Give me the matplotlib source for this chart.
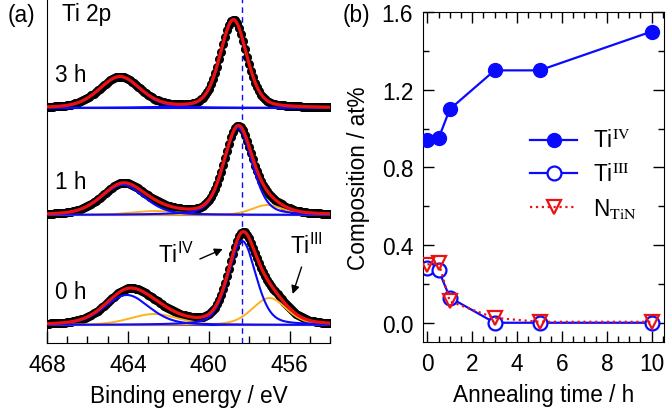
import numpy as np
import matplotlib
matplotlib.use("Agg")
import matplotlib.pyplot as plt
from matplotlib.ticker import MultipleLocator

plt.rcParams['font.family'] = ['Liberation Sans', 'DejaVu Sans']
plt.rcParams['mathtext.fontset'] = 'custom'
plt.rcParams['mathtext.rm'] = 'Liberation Sans'
plt.rcParams['mathtext.it'] = 'Liberation Sans:italic'

FS = 16.3

# ---- panel (a): Ti 2p fit components (center eV, height, fwhm eV) ----
labels_a = ["0 h", "1 h", "3 h"]
offsets_a = [18, 128, 235]
ti4_peaks = [
    [(458.35, 84, 1.6), (464.05, 30, 2.6)],
    [(458.55, 87, 1.65), (464.25, 30, 2.5)],
    [(458.78, 88, 1.55), (464.4, 31, 2.4)],
]
ti3_peaks = [
    [(457.0, 27, 2.0), (462.7, 11, 2.8)],
    [(457.1, 10, 1.8), (462.6, 4, 2.8)],
    [],
]
ref_line = 458.38

# ---- panel (b): composition vs annealing time ----
time_h = [0, 0.5, 1, 3, 5, 10]
ti_iv = [0.94, 0.95, 1.10, 1.30, 1.30, 1.50]
ti_iii = [0.28, 0.27, 0.13, 0.0, 0.0, 0.0]
n_tin = [0.30, 0.31, 0.11, 0.025, 0.005, 0.005]


def pv(x, c, h, w, eta=0.3):
    g = np.exp(-4 * np.log(2) * ((x - c) / w) ** 2)
    l = 1.0 / (1 + 4 * ((x - c) / w) ** 2)
    return h * (eta * l + (1 - eta) * g)


fig = plt.figure(figsize=(6.66, 4.1), dpi=100)
ax1 = fig.add_axes([0.0706, 0.161, 0.425, 0.839])
ax2 = fig.add_axes([0.635, 0.163, 0.362, 0.805])

blue = '#0a0aff'
red = '#ee1111'
orange = '#ffb020'

x = np.linspace(454, 468, 700)
xd = np.arange(454, 468.01, 0.1)
for i in range(3):
    off = offsets_a[i]
    tot = np.zeros_like(x)
    totd = np.zeros_like(xd)
    for p in ti4_peaks[i] + ti3_peaks[i]:
        tot += pv(x, *p)
        totd += pv(xd, *p)
    ax1.plot(xd, totd + off, 'o', color='black', ms=5.5, zorder=1)
    ax1.axhline(off, color=blue, lw=1.5, zorder=2)
    for p in ti3_peaks[i]:
        ax1.plot(x, pv(x, *p) + off, color=orange, lw=1.4, zorder=2)
    for p in ti4_peaks[i]:
        ax1.plot(x, pv(x, *p) + off, color=blue, lw=1.5, zorder=2)
    ax1.plot(x, tot + off, color=red, lw=2.3, zorder=3)
    ax1.text(467.6, off + 33, labels_a[i], fontsize=FS, ha='left', va='center')

ax1.axvline(ref_line, color=blue, lw=1.0, ls=(0, (4, 3)), zorder=0)
ax1.text(467.25, 329, "Ti 2p", fontsize=FS, ha='left', va='center')

arrow = dict(arrowstyle='-|>', color='black', lw=1.0, shrinkA=0, shrinkB=0,
             mutation_scale=12)
ax1.text(461.6, 89, r"Ti$^{\mathrm{IV}}$", fontsize=FS, ha='center', va='center')
ax1.annotate("", xy=(459.31, 94), xytext=(460.44, 84), arrowprops=arrow)
ax1.text(455.2, 98, r"Ti$^{\mathrm{III}}$", fontsize=FS, ha='center', va='center')
ax1.annotate("", xy=(455.85, 49), xytext=(455.41, 76), arrowprops=arrow)

ax1.set_xlim(468, 454)
ax1.set_ylim(0, 344)
ax1.set_yticks([])
ax1.spines['top'].set_visible(False)
ax1.spines['right'].set_visible(False)
ax1.xaxis.set_major_locator(MultipleLocator(4))
ax1.xaxis.set_minor_locator(MultipleLocator(1))
ax1.tick_params(axis='x', which='major', direction='in', length=9, width=1,
                labelsize=FS, pad=7)
ax1.tick_params(axis='x', which='minor', direction='in', length=5, width=1)
ax1.set_xlabel("Binding energy / eV", fontsize=FS, labelpad=6)

# ---- panel (b) ----
ax2.plot(time_h, ti_iv, '-o', color=blue, lw=1.6, ms=10, mfc=blue, mec=blue,
         label=r"Ti$^{\mathrm{IV}}$", zorder=3)
ax2.plot(time_h, ti_iii, '-o', color=blue, lw=1.6, ms=10, mfc='white',
         mec=blue, mew=1.6, label=r"Ti$^{\mathrm{III}}$", zorder=2)
ax2.plot(time_h, n_tin, ':v', color=red, lw=1.6, ms=10, mfc='none',
         mec=red, mew=1.6, label=r"N$_{\mathrm{TiN}}$", zorder=4)

ax2.set_xlim(-0.2, 10.55)
ax2.set_ylim(-0.1, 1.6)
ax2.xaxis.set_major_locator(MultipleLocator(2))
ax2.xaxis.set_minor_locator(MultipleLocator(0.5))
ax2.yaxis.set_major_locator(MultipleLocator(0.4))
ax2.yaxis.set_minor_locator(MultipleLocator(0.2))
ax2.tick_params(which='both', direction='in', top=True, right=True)
ax2.tick_params(which='major', length=8, width=1, labelsize=FS, pad=7)
ax2.tick_params(which='minor', length=4, width=1)
ax2.set_xlabel("Annealing time / h", fontsize=FS, labelpad=6)
ax2.set_ylabel("Composition / at%", fontsize=FS, labelpad=8.5)

leg = ax2.legend(loc='upper left', bbox_to_anchor=(0.444, 0.645), frameon=False,
                 fontsize=FS, handlelength=2.1, labelspacing=0.45,
                 handletextpad=0.7, borderaxespad=0.0, borderpad=0.0)
for t in leg.get_texts():
    t.set_math_fontfamily('stix')

fig.text(0.012, 0.963, "(a)", fontsize=FS, ha='left', va='center')
fig.text(0.515, 0.963, "(b)", fontsize=FS, ha='left', va='center')

fig.savefig("out.png", dpi=100)
